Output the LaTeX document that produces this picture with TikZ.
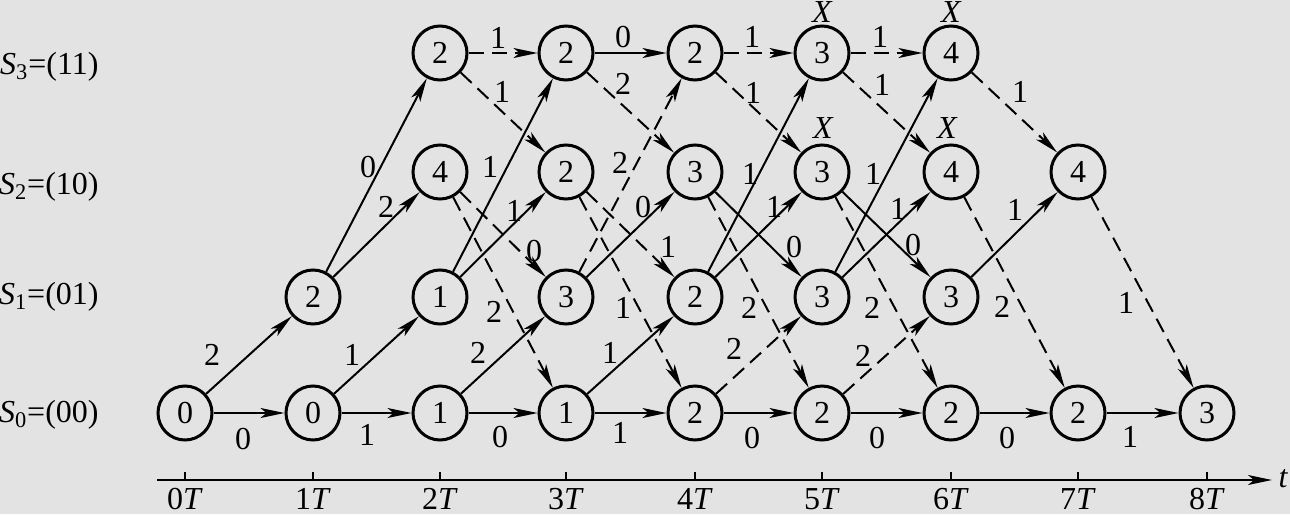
\documentclass[tikz,border=0pt]{standalone}
\usepackage{fontspec}
\setmainfont{Liberation Serif}
\usetikzlibrary{arrows.meta}
\definecolor{bg}{RGB}{227,227,227}
\begin{document}
\begin{tikzpicture}[x=0.5pt,y=-0.5pt,
  every node/.style={font=\fontsize{16}{19}\selectfont},
  st/.style={circle,draw,line width=1.5pt,minimum size=27pt,inner sep=0pt,font=\fontsize{16}{19}\selectfont},
  sol/.style={line width=1pt,-{Stealth[length=12pt,width=5pt,inset=3pt]}},
  dsh/.style={sol,dash pattern=on 7.5pt off 4pt},
  lbl/.style={inner sep=0pt},
  mk/.style={inner sep=0pt,font=\fontsize{16}{19}\selectfont\itshape},
  stlbl/.style={inner sep=0pt,anchor=east}]
\fill[bg] (0,0) rectangle (1290,514);
\useasboundingbox (0,0) rectangle (1290,514);

% state labels
\node[stlbl] (s3) at (99,67) {\textit{S}\textsubscript{3}=(11)};
\node[stlbl] (s2) at (99,187) {\textit{S}\textsubscript{2}=(10)};
\node[stlbl] (s1) at (99,297) {\textit{S}\textsubscript{1}=(01)};
\node[stlbl] (s0) at (99,415) {\textit{S}\textsubscript{0}=(00)};

% trellis nodes
\node[st] (n00) at (185,413) {0};
\node[st] (n10) at (313,413) {0};
\node[st] (n11) at (313,297) {2};
\node[st] (n20) at (440,413) {1};
\node[st] (n21) at (440,297) {1};
\node[st] (n22) at (440,172) {4};
\node[st] (n23) at (440,53) {2};
\node[st] (n30) at (566,413) {1};
\node[st] (n31) at (566,297) {3};
\node[st] (n32) at (566,172) {2};
\node[st] (n33) at (566,53) {2};
\node[st] (n40) at (695,413) {2};
\node[st] (n41) at (695,297) {2};
\node[st] (n42) at (695,172) {3};
\node[st] (n43) at (695,53) {2};
\node[st] (n50) at (822,413) {2};
\node[st] (n51) at (822,297) {3};
\node[st] (n52) at (822,172) {3};
\node[st] (n53) at (822,53) {3};
\node[st] (n60) at (951,413) {2};
\node[st] (n61) at (951,297) {3};
\node[st] (n62) at (951,172) {4};
\node[st] (n63) at (951,53) {4};
\node[st] (n70) at (1078,413) {2};
\node[st] (n72) at (1078,172) {4};
\node[st] (n80) at (1207,413) {3};

% X marks
\node[mk] (x53) at (822,12) {X};
\node[mk] (x52) at (823,128) {X};
\node[mk] (x63) at (951,12) {X};
\node[mk] (x62) at (947,128) {X};

% branches
\draw[sol] (n00) -- (n10);
\draw[sol] (n00) -- (n11);
\draw[sol] (n10) -- (n20);
\draw[sol] (n10) -- (n21);
\draw[sol] (n11) -- (n22);
\draw[sol] (n11) -- (n23);
\draw[sol] (n20) -- (n30);
\draw[sol] (n20) -- (n31);
\draw[sol] (n21) -- (n32);
\draw[sol] (n21) -- (n33);
\draw[dsh] (n22) -- (n30);
\draw[dsh] (n22) -- (n31);
\draw[dsh] (n23) -- (n33);
\draw[dsh] (n23) -- (n32);
\draw[sol] (n30) -- (n40);
\draw[sol] (n30) -- (n41);
\draw[sol] (n31) -- (n42);
\draw[dsh] (n31) -- (n43);
\draw[dsh] (n32) -- (n40);
\draw[dsh] (n32) -- (n41);
\draw[sol] (n33) -- (n43);
\draw[dsh] (n33) -- (n42);
\draw[sol] (n40) -- (n50);
\draw[dsh] (n40) -- (n51);
\draw[sol] (n41) -- (n52);
\draw[sol] (n41) -- (n53);
\draw[dsh] (n42) -- (n50);
\draw[sol] (n42) -- (n51);
\draw[dsh] (n43) -- (n53);
\draw[dsh] (n43) -- (n52);
\draw[sol] (n50) -- (n60);
\draw[dsh] (n50) -- (n61);
\draw[sol] (n51) -- (n62);
\draw[sol] (n51) -- (n63);
\draw[dsh] (n52) -- (n60);
\draw[sol] (n52) -- (n61);
\draw[dsh] (n53) -- (n63);
\draw[dsh] (n53) -- (n62);
\draw[sol] (n60) -- (n70);
\draw[sol] (n61) -- (n72);
\draw[dsh] (n62) -- (n70);
\draw[dsh] (n63) -- (n72);
\draw[sol] (n70) -- (n80);
\draw[dsh] (n72) -- (n80);

% branch metric labels
\node[lbl] (l1) at (243,439) {0};
\node[lbl] (l2) at (212,355) {2};
\node[lbl] (l3) at (367,435) {1};
\node[lbl] (l4) at (352,355) {1};
\node[lbl] (l5) at (386,207) {2};
\node[lbl] (l6) at (368,167) {0};
\node[lbl] (l7) at (500,437) {0};
\node[lbl] (l8) at (478,353) {2};
\node[lbl] (l9) at (514,211) {1};
\node[lbl] (l10) at (490,167) {1};
\node[lbl] (l11) at (494,312) {2};
\node[lbl] (l12) at (534,251) {0};
\node[lbl] (l13) at (498,38) {1};
\node[lbl] (l14) at (502,92) {1};
\node[lbl] (l15) at (620,433) {1};
\node[lbl] (l16) at (610,353) {1};
\node[lbl] (l17) at (643,207) {0};
\node[lbl] (l18) at (620,163) {2};
\node[lbl] (l19) at (623,308) {1};
\node[lbl] (l20) at (668,247) {1};
\node[lbl] (l21) at (623,37) {0};
\node[lbl] (l22) at (623,84) {2};
\node[lbl] (l23) at (752,438) {0};
\node[lbl] (l24) at (734,349) {2};
\node[lbl] (l25) at (774,207) {1};
\node[lbl] (l26) at (750,174) {1};
\node[lbl] (l27) at (749,308) {2};
\node[lbl] (l28) at (794,247) {0};
\node[lbl] (l29) at (752,37) {1};
\node[lbl] (l30) at (753,93) {1};
\node[lbl] (l31) at (877,438) {0};
\node[lbl] (l32) at (863,356) {2};
\node[lbl] (l33) at (898,209) {1};
\node[lbl] (l34) at (873,174) {1};
\node[lbl] (l35) at (872,308) {2};
\node[lbl] (l36) at (913,245) {0};
\node[lbl] (l37) at (880,37) {1};
\node[lbl] (l38) at (882,85) {1};
\node[lbl] (l39) at (1007,438) {0};
\node[lbl] (l40) at (1015,210) {1};
\node[lbl] (l41) at (1002,307) {2};
\node[lbl] (l42) at (1020,92) {1};
\node[lbl] (l43) at (1130,437) {1};
\node[lbl] (l44) at (1126,303) {1};

% time axis
\coordinate (a0) at (157,480);
\coordinate (a1) at (1272,480);
\draw[line width=1pt,-{Stealth[length=12pt,width=5pt,inset=3pt]}] (a0) -- (a1);
\node[mk] (tt) at (1283,479) {t};
\foreach \i/\xx in {0/185,1/313,2/440,3/566,4/695,5/822,6/951,7/1078,8/1207}{
  \draw[line width=1pt] (\xx,480) -- (\xx,472);
  \node[lbl] (tk\i) at (\xx,499) {\i\textit{T}};
}
\end{tikzpicture}
\end{document}
